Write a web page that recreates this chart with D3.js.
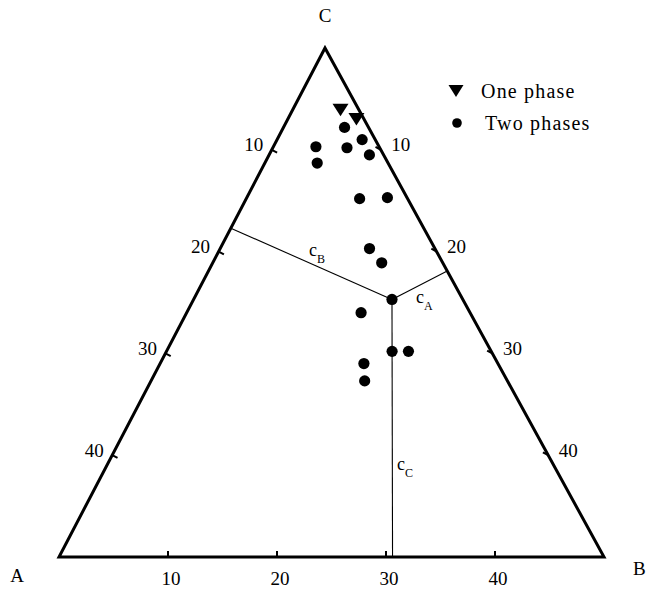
<!DOCTYPE html>
<html>
<head>
<meta charset="utf-8">
<script src="https://cdn.jsdelivr.net/npm/d3@7"></script>
<style>
  html, body { margin: 0; padding: 0; background: #fff; }
  svg { display: block; }
  text { font-family: "Liberation Serif", "Times New Roman", serif; fill: #000; }
</style>
</head>
<body>
<svg id="chart" width="647" height="591"></svg>
<script>
// Compositions given as (b, c) on a 0–50 scale; a = 50 - b - c
const onePhaseB = [4.4, 6.3];
const onePhaseC = [43.9, 43.0];

const twoPhaseB = [5.6, 7.8, 3.9, 6.8, 9.2, 4.8, 10.4, 12.9, 13.7, 15.5, 18.2, 16.0, 20.7, 22.2, 18.7, 19.6];
const twoPhaseC = [42.2, 41.0, 40.3, 40.2, 39.5, 38.7, 35.2, 35.3, 30.3, 28.9, 25.3, 24.0, 20.2, 20.2, 19.0, 17.3];

// Reference composition and the feet of its distances to the three sides
const refPoint = { b: 18.2, c: 25.3 };
const footCA = { b: 0, c: 32.3 };    // c_B, on side A–C
const footCB = { b: 21.9, c: 28.1 }; // c_A, on side B–C
const footAB = { b: 30.6, c: 0 };    // c_C, on side A–B

const sideTicks = [10, 20, 30, 40];
const vertexNames = ["A", "B", "C"];
const legendLabels = ["One phase", "Two phases"];

const svg = d3.select("#chart");

// Triangle corners in the page
const A = { x: 59, y: 557 }, B = { x: 604, y: 557 }, C = { x: 325, y: 48 };

const bScale = d3.scaleLinear().domain([0, 50]).range([A.x, B.x]);
const cShift = d3.scaleLinear().domain([0, 50]).range([0, C.x - A.x]);
const cScaleY = d3.scaleLinear().domain([0, 50]).range([A.y, C.y]);
const px = (b, c) => bScale(b) + cShift(c);
const py = (b, c) => cScaleY(c);

// Outline
svg.append("path")
  .attr("d", d3.line()([[px(0, 0), py(0, 0)], [px(50, 0), py(50, 0)], [px(0, 50), py(0, 50)]]) + "Z")
  .attr("fill", "none").attr("stroke", "#000").attr("stroke-width", 3)
  .attr("stroke-linejoin", "miter");

// Ticks: inward stubs, labels outside
function tickStub(x, y, nx, ny, len) {
  svg.append("line")
    .attr("x1", x).attr("y1", y)
    .attr("x2", x + nx * len).attr("y2", y + ny * len)
    .attr("stroke", "#000").attr("stroke-width", 2);
}
function unitNormal(dx, dy) { const l = Math.hypot(dx, dy); return [dx / l, dy / l]; }

// Left side A–C (values of a, 0 at C)
const [lnx, lny] = unitNormal(A.y - C.y, C.x - A.x);
sideTicks.forEach(v => {
  const b = 0, c = 50 - v;
  const x = px(b, c), y = py(b, c);
  tickStub(x, y, lnx, lny, 6);
  svg.append("text").attr("x", x - 18).attr("y", y - 5)
    .attr("text-anchor", "middle").attr("dominant-baseline", "central")
    .attr("font-size", 19).text(v);
});

// Right side B–C (values of b, 0 at C)
const [rnx, rny] = unitNormal(-(B.y - C.y), -(B.x - C.x));
sideTicks.forEach(v => {
  const b = v, c = 50 - v;
  const x = px(b, c), y = py(b, c);
  tickStub(x, y, rnx, rny, 6);
  svg.append("text").attr("x", x + 20).attr("y", y - 5)
    .attr("text-anchor", "middle").attr("dominant-baseline", "central")
    .attr("font-size", 19).text(v);
});

// Base A–B (values of b)
sideTicks.forEach(v => {
  const x = px(v, 0), y = py(v, 0);
  tickStub(x, y, 0, -1, 6);
  svg.append("text").attr("x", x + 3).attr("y", y + 28)
    .attr("text-anchor", "middle")
    .attr("font-size", 19).text(v);
});

// Vertex names
svg.append("text").attr("x", px(0, 0) - 42).attr("y", py(0, 0) + 25)
  .attr("text-anchor", "middle").attr("font-size", 19).text(vertexNames[0]);
svg.append("text").attr("x", px(50, 0) + 29).attr("y", py(50, 0) + 18)
  .attr("text-anchor", "start").attr("font-size", 19).text(vertexNames[1]);
svg.append("text").attr("x", px(0, 50)).attr("y", py(0, 50) - 26)
  .attr("text-anchor", "middle").attr("font-size", 19).text(vertexNames[2]);

// Distances from the reference composition to each side
const rx = px(refPoint.b, refPoint.c), ry = py(refPoint.b, refPoint.c);
[footCA, footCB, footAB].forEach(f => {
  svg.append("line")
    .attr("x1", rx).attr("y1", ry)
    .attr("x2", px(f.b, f.c)).attr("y2", py(f.b, f.c))
    .attr("stroke", "#000").attr("stroke-width", 1.1);
});

function subLabel(x, y, main, sub) {
  const t = svg.append("text").attr("x", x).attr("y", y).attr("font-size", 18);
  t.append("tspan").text(main);
  t.append("tspan").attr("font-size", 12).attr("dy", 7).text(sub);
}
subLabel(309, 256, "c", "B");
subLabel(416, 303, "c", "A");
subLabel(397, 470, "c", "C");

// Markers
const triPath = (w, h) => `M${-w / 2},${-h / 2}L${w / 2},${-h / 2}L0,${h / 2}Z`;

svg.append("g").selectAll("path")
  .data(d3.range(onePhaseB.length))
  .join("path")
  .attr("transform", i => `translate(${px(onePhaseB[i], onePhaseC[i])},${py(onePhaseB[i], onePhaseC[i])})`)
  .attr("d", triPath(16, 12.5))
  .attr("fill", "#000");

svg.append("g").selectAll("circle")
  .data(d3.range(twoPhaseB.length))
  .join("circle")
  .attr("cx", i => px(twoPhaseB[i], twoPhaseC[i]))
  .attr("cy", i => py(twoPhaseB[i], twoPhaseC[i]))
  .attr("r", 5.6)
  .attr("fill", "#000");

// Legend
const legend = svg.append("g").attr("transform", "translate(456,91)");
legend.append("path").attr("d", triPath(15, 12)).attr("fill", "#000");
legend.append("circle").attr("cx", 1).attr("cy", 32).attr("r", 4.8).attr("fill", "#000");
legend.append("text").attr("x", 25).attr("y", 7).attr("font-size", 20)
  .attr("letter-spacing", 1.2).text(legendLabels[0]);
legend.append("text").attr("x", 29).attr("y", 39).attr("font-size", 20)
  .attr("letter-spacing", 1.2).text(legendLabels[1]);
</script>
</body>
</html>
